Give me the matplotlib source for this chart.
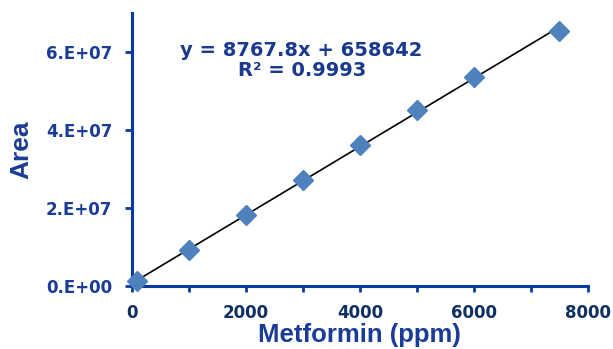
import numpy as np
import matplotlib
matplotlib.use("Agg")
import matplotlib.pyplot as plt
from matplotlib.ticker import MultipleLocator, FuncFormatter

# calibration data
conc = [100, 1000, 2000, 3000, 4000, 5000, 6000, 7500]
area = [1.2e6, 9.3e6, 1.81e7, 2.73e7, 3.62e7, 4.52e7, 5.36e7, 6.55e7]

# trendline coefficients as printed on the chart
slope = 8767.8
intercept = 658642
r2 = 0.9993

blue = "#0b3a9e"
label_col = "#1a3c96"
xtick_col = "#0f3060"

fig = plt.figure(figsize=(6.13, 3.49), dpi=100)
ax = fig.add_axes([0.215, 0.1805, 0.744, 0.7823])

xs = np.array([min(conc), max(conc)])
ax.plot(xs, slope * xs + intercept, color="black", lw=1.2, zorder=2)
ax.plot(conc, area, linestyle="none", marker="D", markersize=10,
        color="#4f81bd", zorder=3, clip_on=False)

ax.set_xlim(0, 8000)
ax.set_ylim(0, 7e7)
ax.xaxis.set_major_locator(MultipleLocator(2000))
ax.xaxis.set_minor_locator(MultipleLocator(1000))
ax.yaxis.set_major_locator(MultipleLocator(2e7))

ax.yaxis.set_major_formatter(FuncFormatter(lambda v, p: "%d.E+%02d" % (v / 1e7 if v else 0, 7 if v else 0)))

for s in ["top", "right"]:
    ax.spines[s].set_visible(False)
for s in ["left", "bottom"]:
    ax.spines[s].set_color(blue)
    ax.spines[s].set_linewidth(2.2)

ax.tick_params(axis="both", which="both", direction="out", color=blue, width=2)
ax.tick_params(axis="y", length=5, pad=9)
ax.tick_params(axis="x", which="both", length=4, pad=9)

for t in ax.get_yticklabels():
    t.set_fontfamily("DejaVu Sans")
    t.set_fontweight("bold")
    t.set_fontsize(12)
    t.set_color(label_col)
for t in ax.get_xticklabels():
    t.set_fontfamily("DejaVu Sans")
    t.set_fontweight("bold")
    t.set_fontsize(12)
    t.set_color(xtick_col)

ax.set_xlabel("Metformin (ppm)", fontfamily="Liberation Sans", fontweight="bold",
              fontsize=18.5, color=label_col, labelpad=1)
ax.set_ylabel("Area", fontfamily="Liberation Sans", fontweight="bold",
              fontsize=19, color=label_col, labelpad=9)

ax.text(0.371, 0.864, "y = 8767.8x + 658642",
        transform=ax.transAxes, ha="center", va="center", fontsize=14,
        fontweight="bold", fontfamily="DejaVu Sans", color="#1a3a8f")
ax.text(0.374, 0.791, "R\u00b2 = %.4f" % r2,
        transform=ax.transAxes, ha="center", va="center", fontsize=14,
        fontweight="bold", fontfamily="DejaVu Sans", color="#1a3a8f")

fig.savefig("out.png", dpi=100)
